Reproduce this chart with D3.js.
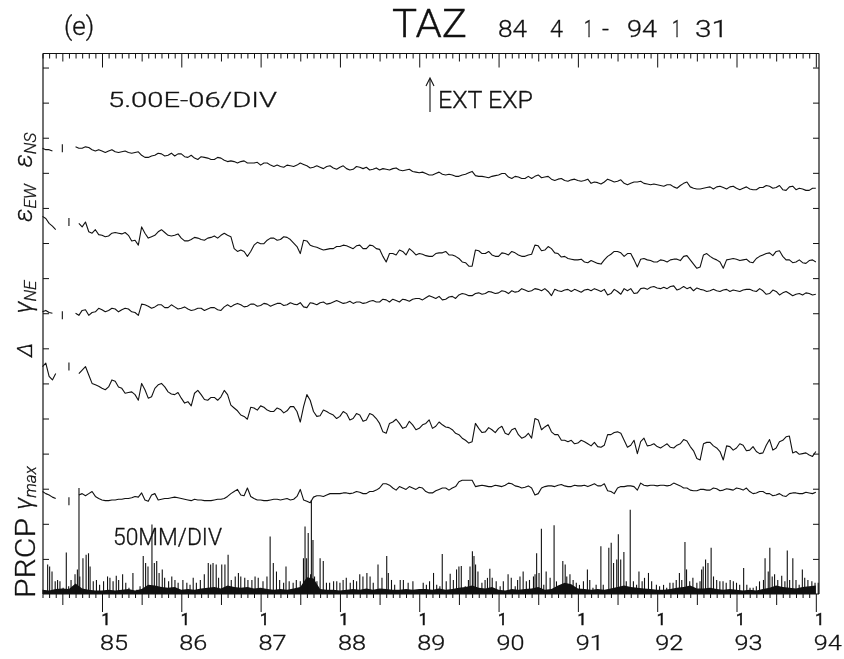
<!DOCTYPE html>
<html>
<head>
<meta charset="utf-8">
<script src="https://cdn.jsdelivr.net/npm/d3@7"></script>
<style>
  body { margin: 0; background: #fff; }
  svg { display: block; will-change: transform; }
  text { font-family: Roboto, "DejaVu Sans", sans-serif; font-weight: 300; fill: #111; stroke: #111; stroke-width: 0.3; }
  text.jan { font-weight: 400; stroke-width: 0.5; }
</style>
</head>
<body>
<svg id="chart" width="844" height="659"></svg>
<script>
// TAZ strain record 1984-04 .. 1994-01 (strain in 1e-6 on one shared vertical axis).
// Each trace: values at the start of every month, plus values at mid-month.
const firstMonth = 1984.25;
const yearTicks = [1985, 1986, 1987, 1988, 1989, 1990, 1991, 1992, 1993, 1994];
const yearLabels = ["85", "86", "87", "88", "89", "90", "91", "92", "93", "94"];

const epsNS = [
  63.5,63.3,null,63.5,null,63.7,63.5,63.6,63.1,63.1,
  63.1,63.0,63.0,62.9,62.9,62.5,62.2,62.5,62.7,62.5,
  62.4,62.7,62.2,62.1,62.3,62.1,61.9,62.1,61.6,61.6,
  61.6,61.4,61.4,61.1,61.4,60.9,60.9,61.1,60.9,61.4,
  61.0,60.8,60.8,60.9,60.7,60.8,60.6,60.5,60.8,60.8,
  60.5,60.4,60.5,60.6,60.4,60.4,60.2,60.0,59.9,59.7,
  60.1,59.7,59.7,59.5,59.8,60.2,59.5,59.4,59.5,59.7,
  59.9,59.2,59.4,59.2,59.2,59.7,59.4,59.1,59.1,58.9,
  59.0,58.9,58.9,58.5,58.6,58.7,58.9,58.8,58.5,58.5,
  58.7,58.5,58.3,58.3,58.1,58.3,57.8,58.5,58.0,57.7,
  57.8,58.0,58.0,57.9,58.0,57.8,57.8,57.7,57.6,57.9,
  58.1,57.9,57.6,58.0,57.6,57.7,57.5,57.8
];
const epsNSmid = [
  63.3,63.1,null,null,null,63.5,63.7,63.3,63.3,62.9,
  63.3,62.9,63.1,62.8,63.0,62.2,62.4,62.8,62.4,62.8,
  62.7,62.3,62.5,61.9,62.2,61.9,62.2,61.8,61.7,61.4,
  61.7,61.4,61.5,61.4,61.1,61.1,60.8,61.0,61.1,61.2,
  60.7,61.0,60.6,61.0,60.5,61.0,60.4,60.9,60.6,60.4,
  60.7,60.6,60.4,60.7,60.3,60.5,60.1,60.1,59.7,59.9,
  59.8,59.8,59.5,59.7,60.0,59.6,59.5,59.3,59.6,59.9,
  59.4,59.5,59.2,59.5,59.5,59.3,59.5,58.9,59.2,58.8,
  59.1,58.8,59.1,58.7,58.4,59.1,58.7,59.0,58.3,58.7,
  58.8,58.4,58.4,58.2,58.3,58.0,58.2,58.7,57.8,57.7,
  57.9,57.7,58.1,57.7,58.1,57.6,58.0,57.6,57.9,58.2,
  57.8,58.2,57.5,58.1,57.8,57.5,57.8
];
const epsEW = [
  53.8,52.8,51.9,null,53.0,null,52.3,51.6,51.9,51.1,
  51.0,51.5,51.3,51.1,50.4,52.3,50.7,51.1,51.9,51.1,
  51.1,50.7,50.3,50.8,50.5,50.7,51.0,51.1,51.1,49.2,
  49.0,48.1,49.7,49.9,50.4,50.7,50.5,50.8,50.0,48.5,
  50.3,49.5,49.2,49.1,49.2,49.5,49.6,49.2,49.7,49.2,
  49.6,49.1,47.3,48.5,49.0,48.3,48.8,48.5,48.2,48.1,
  48.6,48.8,48.3,47.8,47.2,46.7,48.9,48.5,48.3,48.1,
  48.5,48.8,48.3,48.1,48.4,49.6,49.0,49.2,48.5,48.1,
  47.7,47.6,47.3,47.5,47.1,47.6,48.4,48.8,48.1,48.5,
  46.6,47.8,47.5,47.3,47.5,47.6,47.7,48.1,47.6,46.4,
  48.3,48.1,47.6,46.4,47.7,47.7,47.6,47.3,47.8,48.3,
  48.6,48.8,48.1,47.6,47.3,47.2,47.5,47.3
];
const epsEWmid = [
  53.5,52.4,null,null,null,52.8,53.0,51.4,51.2,50.9,
  51.4,51.4,51.5,50.3,49.7,51.4,50.9,51.6,51.5,51.0,
  51.3,50.3,50.5,50.7,50.4,50.8,50.7,51.4,50.9,48.8,
  48.8,48.8,50.1,49.9,50.7,50.4,50.9,50.5,49.5,50.4,
  49.7,49.4,49.0,49.2,49.5,49.7,49.4,49.6,49.2,49.7,
  49.2,48.1,48.5,48.3,48.8,49.2,48.3,48.4,48.1,48.5,
  48.6,48.3,48.1,47.3,46.7,49.0,48.5,48.8,48.1,48.6,
  48.3,48.6,48.1,48.3,49.7,48.9,49.5,48.6,48.0,47.8,
  47.6,47.7,47.2,47.3,47.0,48.1,48.8,48.6,48.5,47.6,
  47.7,47.6,47.3,47.6,47.3,47.7,47.5,48.2,47.0,46.6,
  48.5,47.8,47.3,47.6,47.8,47.5,47.7,47.2,48.1,48.5,
  48.2,48.9,47.6,47.2,47.6,47.1,47.6
];
const gammaNE = [
  40.2,40.1,null,39.7,null,40.0,40.4,39.7,40.2,40.5,
  40.4,40.6,40.5,40.6,40.1,41.3,41.0,40.9,41.2,40.8,
  40.9,40.7,40.6,40.5,40.7,40.6,40.8,40.4,41.2,41.2,
  41.2,41.0,41.3,41.1,41.3,41.2,41.4,41.2,41.3,41.5,
  40.8,41.4,41.5,41.3,41.6,41.6,41.5,41.4,41.6,41.5,
  41.8,41.6,41.9,42.0,41.6,41.9,42.0,42.1,42.2,42.3,
  42.4,42.0,42.4,42.6,42.7,42.5,42.9,42.8,43.0,42.9,
  43.1,43.2,43.1,43.3,43.2,43.4,43.5,42.5,43.2,43.3,
  43.1,43.2,43.3,43.2,43.3,43.4,42.8,43.1,43.5,43.5,
  42.9,43.6,43.7,43.6,43.7,43.8,43.3,43.8,43.7,43.6,
  43.3,43.2,43.2,43.3,43.1,43.2,43.3,43.4,43.1,43.2,
  42.8,43.1,42.9,42.8,42.7,42.6,42.8,42.7
];
const gammaNEmid = [
  40.4,40.0,null,null,null,39.7,40.5,40.1,40.7,40.2,
  40.7,40.2,40.7,40.2,39.7,41.2,40.7,41.2,40.8,41.2,
  40.6,40.9,40.4,40.7,40.4,40.8,40.5,40.9,40.9,41.4,
  40.9,41.3,41.0,41.4,41.0,41.4,41.1,41.5,41.2,40.9,
  41.5,41.2,41.6,41.4,41.8,41.4,41.7,41.6,41.4,41.7,
  41.6,42.0,41.6,41.8,42.0,41.7,42.1,41.9,42.5,42.1,
  41.9,42.3,42.1,42.8,42.5,42.8,42.7,43.1,42.8,43.2,
  42.8,43.0,43.5,43.1,43.5,43.2,43.1,43.4,43.1,43.4,
  43.4,43.0,43.4,43.5,43.1,42.6,43.4,42.7,43.2,42.8,
  43.5,43.4,43.8,43.5,43.5,43.9,43.5,43.5,43.2,43.4,
  43.1,43.4,43.1,43.4,43.3,43.1,43.4,43.2,43.5,42.7,
  43.3,42.6,43.1,42.5,42.8,42.9,42.6
];
const delta = [
  32.4,31.0,31.4,null,32.4,null,31.9,31.2,29.8,29.3,
  29.5,30.3,29.3,28.7,28.4,30.0,27.9,29.3,30.0,28.8,
  28.4,27.9,27.4,28.6,28.4,27.6,28.0,28.1,28.4,26.5,
  25.5,24.9,26.5,26.8,26.2,26.0,26.3,26.1,26.7,24.5,
  28.4,26.0,25.4,26.0,25.5,25.3,25.7,25.0,25.5,24.8,
  25.5,24.3,22.9,24.5,24.3,23.8,24.1,23.6,24.3,23.6,
  24.5,23.8,23.4,22.7,21.9,21.7,23.6,23.1,23.4,23.6,
  22.9,23.4,22.7,22.4,22.2,24.8,23.8,23.1,22.7,21.9,
  21.9,21.5,21.7,21.1,21.0,21.2,22.7,23.1,21.9,21.2,
  20.0,22.2,21.2,21.0,21.1,20.9,21.2,22.0,21.0,19.3,
  21.4,21.6,20.8,19.1,21.0,20.8,21.2,20.5,20.3,20.1,
  22.0,20.8,21.9,22.5,20.3,20.0,19.8,20.3
];
const deltaMid = [
  32.9,30.5,null,null,null,31.4,32.4,30.0,29.6,29.1,
  30.5,29.5,28.6,28.8,27.6,29.1,28.1,29.8,29.5,28.5,
  28.7,27.2,26.8,29.0,27.7,28.0,27.6,29.0,26.9,26.1,
  25.3,26.6,26.2,26.6,26.0,26.5,25.8,26.7,26.0,26.7,
  27.6,25.3,26.2,25.7,25.0,26.0,24.8,25.7,24.6,25.7,
  25.0,23.1,24.3,24.9,23.6,24.6,23.4,24.1,24.8,23.9,
  24.1,23.7,22.9,22.2,21.5,24.3,23.0,23.7,23.0,23.9,
  22.7,23.6,22.2,22.9,25.0,23.4,24.1,22.7,21.9,21.7,
  21.4,21.9,21.4,21.6,20.9,22.7,23.0,22.9,20.9,21.9,
  21.7,21.1,21.4,20.8,21.4,20.8,21.4,21.8,20.4,19.1,
  21.6,21.1,20.3,21.1,20.5,21.4,20.4,21.0,20.0,21.2,
  20.5,21.7,22.4,20.1,19.9,20.1,19.6
];
const gammaMax = [
  14.6,14.1,13.6,null,13.2,null,14.3,14.3,13.9,13.4,
  13.3,13.4,13.5,13.6,13.9,14.4,13.2,14.3,13.5,13.6,
  13.8,13.6,13.4,13.5,13.4,13.3,13.4,13.5,13.9,14.6,
  14.1,15.1,13.6,13.4,13.3,13.5,13.4,13.6,13.5,14.9,
  13.2,13.8,14.0,14.1,14.3,14.3,14.4,14.4,14.5,14.3,
  14.6,15.1,15.7,15.1,15.3,14.9,15.1,15.2,14.6,14.4,
  14.9,15.1,15.1,16.0,16.2,16.2,15.4,15.4,15.3,15.4,
  15.5,15.7,15.3,15.2,15.1,14.3,15.3,15.4,15.5,15.4,
  15.3,15.4,15.5,15.5,15.4,15.7,14.6,15.1,15.3,15.4,
  14.8,15.5,15.5,15.4,15.5,15.5,15.6,15.1,14.8,14.7,
  14.9,14.8,15.0,14.8,14.9,15.1,14.8,14.6,14.4,14.6,
  14.3,14.1,14.0,14.3,14.4,14.3,14.4,14.5
];
const gammaMaxMid = [
  14.3,13.8,null,null,null,14.1,14.0,14.6,13.6,13.3,
  13.4,13.5,13.6,13.7,13.8,13.4,14.1,13.4,13.6,13.7,
  13.7,13.5,13.3,13.4,13.3,13.3,13.5,13.6,14.3,14.9,
  14.0,13.9,13.4,13.3,13.4,13.5,13.5,13.4,13.9,13.4,
  13.0,14.0,13.9,14.3,14.3,14.4,14.3,14.6,14.3,14.6,
  14.8,15.7,15.5,14.8,15.1,15.3,14.9,15.1,14.4,14.7,
  15.1,14.8,15.3,16.2,16.2,15.3,15.5,15.3,15.5,15.3,
  15.8,15.4,15.1,15.4,14.1,15.1,15.4,15.3,15.6,15.3,
  15.5,15.4,15.3,15.7,15.4,14.7,14.3,15.3,15.4,15.3,
  15.8,15.4,15.5,15.5,15.4,15.8,15.4,15.1,14.7,14.9,
  14.8,15.1,14.7,15.0,14.8,15.0,15.1,14.3,14.6,14.3,
  14.0,14.3,13.9,14.4,14.3,14.5,14.3
];

// Precipitation: individual rain events [decimal year, mm] and monthly light-rain level (mm)
const prcpEvents = [
  [1984.315,42],[1984.34,39],[1984.37,32],[1984.41,18],[1984.44,20],[1984.47,18],[1984.51,9],
  [1984.55,59],[1984.58,11],[1984.61,20],[1984.66,28],[1984.69,35],[1984.71,151],[1984.72,25],
  [1984.76,51],[1984.80,56],[1984.83,58],[1984.85,39],[1984.89,18],[1984.93,20],[1984.97,13],
  [1985.02,18],[1985.07,25],[1985.10,23],[1985.14,18],[1985.18,26],[1985.21,20],[1985.26,28],
  [1985.30,16],[1985.34,9],[1985.39,30],[1985.44,6],[1985.48,11],[1985.52,54],[1985.55,44],
  [1985.58,39],[1985.63,99],[1985.66,44],[1985.69,47],[1985.72,30],[1985.76,35],[1985.79,23],
  [1985.84,18],[1985.88,25],[1985.92,20],[1985.96,16],[1986.02,20],[1986.07,16],[1986.11,13],
  [1986.15,23],[1986.19,16],[1986.24,20],[1986.29,28],[1986.34,44],[1986.37,42],[1986.40,44],
  [1986.44,42],[1986.47,23],[1986.51,42],[1986.55,42],[1986.59,56],[1986.63,20],[1986.68,25],
  [1986.72,30],[1986.75,25],[1986.80,23],[1986.84,20],[1986.89,20],[1986.93,25],[1986.97,23],
  [1987.03,18],[1987.08,25],[1987.12,82],[1987.16,44],[1987.20,32],[1987.24,20],[1987.29,16],
  [1987.32,39],[1987.36,18],[1987.41,16],[1987.45,20],[1987.50,18],[1987.54,51],[1987.56,96],
  [1987.58,51],[1987.60,87],[1987.63,28],[1987.64,134],[1987.66,77],[1987.68,25],[1987.71,18],
  [1987.75,51],[1987.79,47],[1987.83,16],[1987.87,16],[1987.92,18],[1987.96,18],[1988.00,16],
  [1988.04,20],[1988.08,23],[1988.13,16],[1988.17,20],[1988.21,18],[1988.25,28],[1988.29,25],
  [1988.34,30],[1988.38,25],[1988.42,16],[1988.48,42],[1988.53,23],[1988.59,54],[1988.61,30],
  [1988.65,20],[1988.69,13],[1988.76,20],[1988.80,20],[1988.86,16],[1988.92,18],
  [1989.05,16],[1989.09,13],[1989.13,18],[1989.18,30],[1989.22,13],[1989.26,11],[1989.29,57],
  [1989.34,18],[1989.39,29],[1989.43,20],[1989.47,35],[1989.50,39],[1989.53,40],[1989.58,11],
  [1989.62,20],[1989.64,39],[1989.67,61],[1989.69,54],[1989.71,42],[1989.74,32],[1989.79,16],
  [1989.83,20],[1989.86,23],[1989.89,36],[1989.92,23],[1989.97,18],[1990.02,11],[1990.06,18],
  [1990.12,28],[1990.16,23],[1990.21,11],[1990.24,20],[1990.27,25],[1990.31,32],[1990.35,18],
  [1990.39,20],[1990.44,25],[1990.46,28],[1990.48,58],[1990.51,30],[1990.54,93],[1990.57,13],
  [1990.60,32],[1990.65,23],[1990.70,98],[1990.73,18],[1990.77,11],[1990.81,47],[1990.84,42],
  [1990.86,25],[1990.90,28],[1990.94,20],[1990.98,16],[1991.02,13],[1991.07,18],[1991.12,35],
  [1991.15,20],[1991.19,9],[1991.23,13],[1991.29,68],[1991.32,13],[1991.39,66],[1991.42,73],
  [1991.45,44],[1991.49,49],[1991.51,85],[1991.54,49],[1991.58,60],[1991.61,18],[1991.66,120],
  [1991.70,18],[1991.74,13],[1991.77,32],[1991.81,18],[1991.84,23],[1991.89,30],[1991.93,18],
  [1991.99,13],[1992.03,11],[1992.08,13],[1992.12,9],[1992.16,16],[1992.20,16],[1992.24,20],
  [1992.28,30],[1992.31,20],[1992.35,74],[1992.37,35],[1992.41,18],[1992.45,23],[1992.50,16],
  [1992.54,18],[1992.56,35],[1992.58,39],[1992.61,49],[1992.64,44],[1992.68,66],[1992.71,25],
  [1992.75,20],[1992.79,18],[1992.83,18],[1992.87,16],[1992.92,20],[1992.96,18],[1993.00,16],
  [1993.04,13],[1993.09,37],[1993.13,13],[1993.17,9],[1993.21,9],[1993.25,11],[1993.29,18],
  [1993.34,20],[1993.36,51],[1993.40,32],[1993.42,66],[1993.45,25],[1993.48,28],[1993.52,20],
  [1993.57,26],[1993.61,18],[1993.64,62],[1993.67,20],[1993.71,51],[1993.75,20],[1993.79,13],
  [1993.83,35],[1993.86,23],[1993.90,20],[1993.95,18],[1993.99,16],[1994.03,16]
];
const prcpBase = [
  6,5,7,8,7,15,8,6,5,5,
  6,5,6,7,5,7,13,12,10,9,
  10,6,7,6,8,9,10,8,12,10,
  9,10,8,9,7,6,7,6,8,10,
  24,22,7,6,6,5,6,7,6,8,
  6,8,7,6,6,7,6,7,7,6,
  8,6,7,9,10,12,9,8,10,6,
  5,7,6,7,8,10,6,7,12,16,
  14,8,7,6,7,6,8,10,12,10,
  9,8,7,6,6,7,9,10,12,8,
  8,9,7,6,7,6,5,6,5,7,
  9,12,10,9,8,10,11,12
];

const svg = d3.select("#chart");
const plotLeft = 43, plotRight = 819, plotTop = 53.5, plotBase = 594;

const x = d3.scaleLinear().domain([firstMonth, 1994.04]).range([42.5, plotRight]);
// 5e-6 per division; one division = 35.1 px
const y = d3.scaleLinear().domain([0, 77]).range([plotBase, plotTop]);
// 50 mm per division
const yP = d3.scaleLinear().domain([0, 50]).range([plotBase, plotBase - 35.1]);

const monthT = i => firstMonth + i / 12;
const months = d3.range(0, 118).map(monthT);
const yearT = months.filter((t, i) => (i + 3) % 12 === 0);
const halfT = months.filter((t, i) => (i + 3) % 12 === 6);
const minorT = months.filter((t, i) => (i + 3) % 6 !== 0);

function tickRow(values, size, yPos) {
  const g = svg.append("g").attr("transform", `translate(0,${yPos})`)
    .call(d3.axisBottom(x).tickValues(values).tickSize(size).tickFormat(""));
  g.select(".domain").remove();
  g.selectAll(".tick line").attr("stroke", "#111").attr("stroke-width", 1);
}
// top border ticks
tickRow(minorT, 5, plotTop);
tickRow(halfT, 8, plotTop);
tickRow(yearT, 14, plotTop);
// bottom baseline ticks
tickRow(minorT, 4, plotBase);
tickRow(halfT, 11, plotBase);
tickRow(yearT, 18, plotBase);

// left and right division ticks
const divs = d3.range(5, 77, 5);
const gl = svg.append("g").attr("transform", `translate(${plotLeft},0)`)
  .call(d3.axisRight(y).tickValues(divs).tickSize(6).tickFormat(""));
gl.select(".domain").remove();
const gr = svg.append("g").attr("transform", `translate(${plotRight},0)`)
  .call(d3.axisLeft(y).tickValues(divs).tickSize(6).tickFormat(""));
gr.select(".domain").remove();
svg.selectAll(".tick line").attr("stroke", "#111");

// frame
const frame = svg.append("g").attr("stroke", "#111").attr("stroke-width", 1.2).attr("fill", "none");
frame.append("line").attr("x1", plotLeft).attr("x2", plotRight).attr("y1", plotTop).attr("y2", plotTop);
frame.append("line").attr("x1", plotLeft).attr("x2", plotLeft).attr("y1", plotTop).attr("y2", plotBase);
frame.append("line").attr("x1", plotRight).attr("x2", plotRight).attr("y1", plotTop).attr("y2", plotBase);
frame.append("line").attr("x1", plotLeft).attr("x2", plotRight).attr("y1", plotBase).attr("y2", plotBase);

// precipitation
const baseArea = d3.area()
  .x((d, i) => x(monthT(i))).y0(plotBase).y1(d => yP(d));
svg.append("path").datum(prcpBase).attr("d", baseArea).attr("fill", "#111");
svg.append("g").selectAll("line").data(prcpEvents).join("line")
  .attr("x1", d => x(d[0])).attr("x2", d => x(d[0]))
  .attr("y1", plotBase).attr("y2", d => yP(d[1]))
  .attr("stroke", "#111").attr("stroke-width", 1.1);

// strain traces: interleave month-start and mid-month samples
function interleave(startVals, midVals) {
  const out = [];
  startVals.forEach((v, i) => {
    out.push({ t: monthT(i), v });
    if (i < midVals.length) out.push({ t: monthT(i + 0.5), v: midVals[i] });
  });
  return out;
}
const series = [
  interleave(epsNS, epsNSmid),
  interleave(epsEW, epsEWmid),
  interleave(gammaNE, gammaNEmid),
  interleave(delta, deltaMid),
  interleave(gammaMax, gammaMaxMid)
];
const line = d3.line().defined(d => d.v != null)
  .x(d => x(d.t)).y(d => y(d.v));
series.forEach(pts => {
  svg.append("path").datum(pts).attr("d", line)
    .attr("fill", "none").attr("stroke", "#111").attr("stroke-width", 1.1)
    .attr("stroke-linejoin", "round");
  // isolated samples appear as short pen marks
  pts.forEach((p, i) => {
    if (p.v != null && i > 0 && pts[i - 1].v == null && pts[i + 1] && pts[i + 1].v == null) {
      svg.append("line").attr("x1", x(p.t)).attr("x2", x(p.t))
        .attr("y1", y(p.v) - 4).attr("y2", y(p.v) + 4)
        .attr("stroke", "#111").attr("stroke-width", 1.1);
    }
  });
});

// year labels: a small "1" (January) above each two-digit year
yearTicks.forEach((t, k) => {
  svg.append("text").attr("class", "jan").attr("x", x(t) + 4).attr("y", 625).attr("font-size", 16)
    .attr("text-anchor", "middle").text("1");
  svg.append("text").attr("x", x(t) - 2).attr("y", 650).attr("font-size", 20)
    .attr("textLength", 28).attr("lengthAdjust", "spacingAndGlyphs").text(yearLabels[k]);
});

// headings
svg.append("text").attr("x", 64).attr("y", 35).attr("font-size", 26).text("(e)");
svg.append("text").attr("x", 392).attr("y", 37).attr("font-size", 38)
  .attr("textLength", 75).attr("lengthAdjust", "spacingAndGlyphs").text("TAZ");
const subParts = [["84", 498, 29], ["4", 550, 13], ["1", 584, 9], ["-", 602, 7], ["94", 627, 30], ["1", 672, 9], ["31", 695, 33]];
subParts.forEach(([s, px, w]) => {
  svg.append("text").attr("x", px).attr("y", 37).attr("font-size", 24)
    .attr("textLength", w).attr("lengthAdjust", "spacingAndGlyphs").text(s);
});
svg.append("text").attr("x", 108).attr("y", 107).attr("font-size", 21)
  .attr("textLength", 169).attr("lengthAdjust", "spacingAndGlyphs").text("5.00E-06/DIV");
svg.append("text").attr("x", 438).attr("y", 108).attr("font-size", 24)
  .attr("textLength", 95).attr("lengthAdjust", "spacingAndGlyphs").text("EXT EXP");
// arrow
svg.append("line").attr("x1", 430).attr("x2", 430).attr("y1", 112).attr("y2", 79)
  .attr("stroke", "#111").attr("stroke-width", 1.1);
svg.append("path").attr("d", "M426,86 L430,78 L434,86").attr("fill", "none")
  .attr("stroke", "#111").attr("stroke-width", 1.1);
svg.append("text").attr("x", 113).attr("y", 545).attr("font-size", 23)
  .attr("textLength", 109).attr("lengthAdjust", "spacingAndGlyphs").text("50MM/DIV");

// rotated trace labels
function sideLabel(cy, main, sub, size, italic) {
  const t = svg.append("text").attr("transform", `translate(32,${cy}) rotate(-90)`)
    .attr("text-anchor", "middle").attr("font-size", size)
    .attr("font-style", italic ? "italic" : "normal");
  t.append("tspan").text(main);
  if (sub) t.append("tspan").attr("font-size", size * 0.68).attr("dy", 4).text(sub);
}
sideLabel(150, "ε", "NS", 25, true);
sideLabel(203, "ε", "EW", 25, true);
sideLabel(297, "γ", "NE", 25, true);
sideLabel(350, "Δ", null, 21, true);
sideLabel(488, "γ", "max", 25, true);
svg.append("text").attr("transform", "translate(35,558) rotate(-90)")
  .attr("text-anchor", "middle").attr("font-size", 28)
  .attr("textLength", 80).attr("lengthAdjust", "spacingAndGlyphs").text("PRCP");
</script>
</body>
</html>
